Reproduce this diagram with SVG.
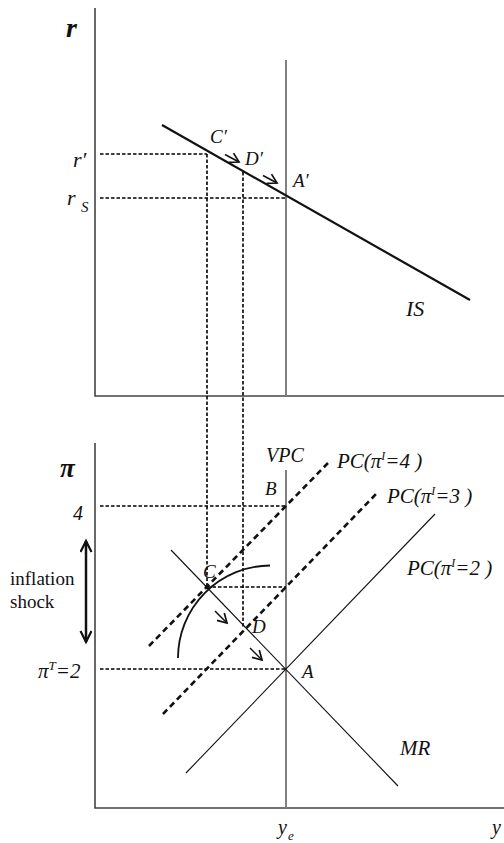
<svg xmlns="http://www.w3.org/2000/svg" width="504" height="843" viewBox="0 0 504 843">
<style>
text{font-family:"Liberation Serif","Times New Roman",serif;font-style:italic;fill:#111}
.up{font-style:normal}
.axis{stroke:#444;stroke-width:1.6;fill:none}
.vpc{stroke:#808080;stroke-width:2;fill:none}
.thin{stroke:#111;stroke-width:1.1;fill:none}
.thick{stroke:#111;stroke-width:2.2;fill:none}
.guide{stroke:#000;stroke-width:1.6;stroke-dasharray:3.5 2;fill:none}
.pcd{stroke:#111;stroke-width:2.6;stroke-dasharray:6 4;fill:none}
.arr{stroke:#111;stroke-width:1.5;fill:none;marker-end:url(#open)}
</style>
<defs>
<marker id="open" markerUnits="userSpaceOnUse" markerWidth="14" markerHeight="14" refX="10" refY="6" orient="auto">
<path d="M1,0.8 L10,6 L1,11.2" fill="none" stroke="#111" stroke-width="1.7"/>
</marker>
<marker id="big" markerUnits="userSpaceOnUse" markerWidth="16" markerHeight="16" refX="12" refY="6" orient="auto-start-reverse">
<path d="M1,0.5 L12,6 L1,11.5" fill="none" stroke="#111" stroke-width="2.2"/>
</marker>
</defs>
<rect width="504" height="843" fill="#fff"/>

<g id="top-panel">
<path class="axis" d="M95,8 V396 H504"/>
<line class="vpc" x1="286" y1="60" x2="286" y2="396"/>
<g id="guides-top">
<line class="guide" x1="100" y1="154" x2="207" y2="154"/>
<line class="guide" x1="100" y1="198" x2="286" y2="198"/>
</g>
<line id="IS" class="thick" x1="162" y1="125" x2="470" y2="300"/>
<line class="arr" x1="225" y1="154.5" x2="239" y2="162"/>
<line class="arr" x1="263" y1="175.5" x2="277" y2="183"/>
</g>

<g id="links">
<line class="guide" x1="207" y1="154" x2="207" y2="587"/>
<line class="guide" x1="243" y1="172" x2="243" y2="627"/>
</g>

<g id="bottom-panel">
<path class="axis" d="M95,443 V808 H504"/>
<line class="vpc" x1="286" y1="470" x2="286" y2="808"/>
<g id="guides-bottom">
<line class="guide" x1="100" y1="506" x2="286" y2="506"/>
<line class="guide" x1="207" y1="587" x2="286" y2="587"/>
<line class="guide" x1="100" y1="669" x2="286" y2="669"/>
</g>
<line id="MR" class="thin" x1="171" y1="550" x2="398" y2="786"/>
<line id="PC2" class="thin" x1="186" y1="773" x2="435" y2="514"/>
<line id="PC3" class="pcd" x1="163" y1="714" x2="378" y2="492"/>
<line id="PC4" class="pcd" x1="149" y1="646" x2="328" y2="463"/>
<path id="arc" class="thick" style="stroke-width:1.8" d="M178,658 A92.5 92.5 0 0 1 270,565.5"/>
<circle cx="207" cy="587" r="2.3" fill="#111"/>
<line class="arr" x1="215" y1="611" x2="227" y2="623"/>
<line class="arr" x1="250" y1="648" x2="262" y2="660"/>
<line id="shock" x1="86" y1="541" x2="86" y2="642" stroke="#111" stroke-width="2.5" marker-start="url(#big)" marker-end="url(#big)"/>
</g>

<g id="labels">
<text x="66" y="37" font-size="28" font-weight="bold">r</text>
<text x="73" y="167" font-size="22">r′</text>
<text x="67" y="205" font-size="22">r</text>
<text x="81" y="212" font-size="15">S</text>
<text x="210" y="143" font-size="19">C′</text>
<text x="245" y="165" font-size="19">D′</text>
<text x="293" y="187" font-size="19">A′</text>
<text x="406" y="316" font-size="22">IS</text>

<text x="60" y="477" font-size="27" font-weight="bold">π</text>
<text x="73" y="520" font-size="20">4</text>
<text class="up" x="10" y="585" font-size="19">inflation</text>
<text class="up" x="10" y="608" font-size="19">shock</text>
<text x="38" y="678" font-size="21">π<tspan font-size="13" dy="-8">T</tspan><tspan dy="8">=2</tspan></text>

<text x="266" y="462" font-size="20">VPC</text>
<text x="265" y="495" font-size="19">B</text>
<text x="337" y="468" font-size="21">PC(π<tspan font-size="12" dy="-8">I</tspan><tspan dy="8">=4 )</tspan></text>
<text x="387" y="503" font-size="21">PC(π<tspan font-size="12" dy="-8">I</tspan><tspan dy="8">=3 )</tspan></text>
<text x="407" y="575" font-size="21">PC(π<tspan font-size="12" dy="-8">I</tspan><tspan dy="8">=2 )</tspan></text>
<text x="203" y="578" font-size="19">C</text>
<text x="252" y="633" font-size="19">D</text>
<text x="302" y="678" font-size="19">A</text>
<text x="400" y="755" font-size="21">MR</text>
<text x="278" y="834" font-size="20">y</text>
<text x="288" y="840" font-size="13">e</text>
<text x="492" y="834" font-size="20">y</text>
</g>
</svg>
